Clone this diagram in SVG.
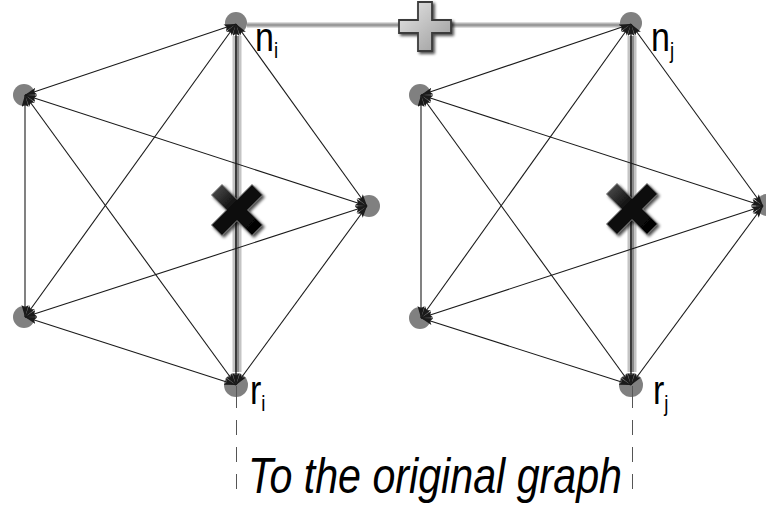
<svg xmlns="http://www.w3.org/2000/svg" width="766" height="508" viewBox="0 0 766 508">
<style>
.node{fill:#808080}
.e{stroke:#1a1a1a;stroke-width:1.1;fill:none;marker-start:url(#ah);marker-end:url(#ah)}
.halo{stroke:#c4c4c4;stroke-width:9;fill:none}
.halo2{stroke:#8a8a8a;stroke-width:4;fill:none}
.core{stroke:#1a1a1a;stroke-width:1.4;fill:none;marker-start:url(#ah);marker-end:url(#ah)}
.dash{stroke:#555;stroke-width:1;stroke-dasharray:15 12;fill:none}
.lbl{font-family:"Liberation Sans",Arial,sans-serif;fill:#000}
</style>
<defs>
<marker id="ah" markerUnits="userSpaceOnUse" markerWidth="14" markerHeight="8" refX="12" refY="3.5" orient="auto-start-reverse">
<path d="M0,0 L12,3.5 L0,7 L2.5,3.5 Z" fill="#1a1a1a"/>
</marker>
<linearGradient id="plusg" x1="0" y1="0" x2="1" y2="1">
<stop offset="0" stop-color="#e6e6e6"/><stop offset="1" stop-color="#9a9a9a"/>
</linearGradient>
<linearGradient id="xg" x1="0" y1="0" x2="1" y2="1">
<stop offset="0" stop-color="#555"/><stop offset="0.4" stop-color="#111"/><stop offset="1" stop-color="#000"/>
</linearGradient>
<filter id="sh" x="-30%" y="-30%" width="160%" height="160%">
<feGaussianBlur in="SourceAlpha" stdDeviation="1.5"/>
<feOffset dx="2" dy="2" result="b"/>
<feComponentTransfer><feFuncA type="linear" slope="0.7"/></feComponentTransfer>
<feMerge><feMergeNode/><feMergeNode in="SourceGraphic"/></feMerge>
</filter>
<polygon id="xshape" points="0,-10.5 15,-25.5 25.5,-15 10.5,0 25.5,15 15,25.5 0,10.5 -15,25.5 -25.5,15 -10.5,0 -25.5,-15 -15,-25.5"/>
</defs>
<rect width="766" height="508" fill="#fff"/>

<g id="nodes-left">
<g id="ni"><circle class="node" cx="236" cy="23" r="11"/></g>
<g id="l-ul"><circle class="node" cx="24" cy="95" r="11"/></g>
<g id="l-r"><circle class="node" cx="369" cy="206" r="11"/></g>
<g id="l-ll"><circle class="node" cx="24" cy="317" r="11"/></g>
<g id="ri"><circle class="node" cx="236" cy="385" r="12"/></g>
</g>
<g id="nodes-right">
<g id="nj"><circle class="node" cx="631" cy="23" r="11"/></g>
<g id="r-ul"><circle class="node" cx="420" cy="95" r="11"/></g>
<g id="r-r"><circle class="node" cx="767" cy="205" r="11"/></g>
<g id="r-ll"><circle class="node" cx="420" cy="318" r="11"/></g>
<g id="rj"><circle class="node" cx="631" cy="385" r="12"/></g>
</g>

<g id="connectors">
<line x1="247" y1="25" x2="620" y2="25" stroke="#b8b8b8" stroke-width="5"/>
<line x1="247" y1="25" x2="620" y2="25" stroke="#909090" stroke-width="1.5"/>
<line class="halo" x1="237" y1="36" x2="237" y2="372"/>
<line class="halo2" x1="237" y1="36" x2="237" y2="372"/>
<line class="halo" x1="632" y1="36" x2="632" y2="372"/>
<line class="halo2" x1="632" y1="36" x2="632" y2="372"/>
<line class="core" x1="236" y1="24" x2="236" y2="385"/>
<line class="core" x1="631" y1="24" x2="631" y2="385"/>
<line class="e" x1="236" y1="24" x2="25" y2="95"/>
<line class="e" x1="236" y1="24" x2="367" y2="206"/>
<line class="e" x1="236" y1="24" x2="25" y2="317"/>
<line class="e" x1="25" y1="95" x2="367" y2="206"/>
<line class="e" x1="25" y1="95" x2="25" y2="317"/>
<line class="e" x1="25" y1="95" x2="236" y2="385"/>
<line class="e" x1="367" y1="206" x2="25" y2="317"/>
<line class="e" x1="367" y1="206" x2="236" y2="385"/>
<line class="e" x1="25" y1="317" x2="236" y2="385"/>
<line class="e" x1="631" y1="24" x2="421" y2="95"/>
<line class="e" x1="631" y1="24" x2="763" y2="206"/>
<line class="e" x1="631" y1="24" x2="421" y2="318"/>
<line class="e" x1="421" y1="95" x2="763" y2="206"/>
<line class="e" x1="421" y1="95" x2="421" y2="318"/>
<line class="e" x1="421" y1="95" x2="631" y2="385"/>
<line class="e" x1="763" y1="206" x2="421" y2="318"/>
<line class="e" x1="763" y1="206" x2="631" y2="385"/>
<line class="e" x1="421" y1="318" x2="631" y2="385"/>
<line stroke="#555" stroke-width="1" x1="236.5" y1="386" x2="236.5" y2="408"/>
<line class="dash" x1="236.5" y1="420" x2="236.5" y2="500"/>
<line stroke="#555" stroke-width="1" x1="632.5" y1="386" x2="632.5" y2="408"/>
<line class="dash" x1="632.5" y1="420" x2="632.5" y2="500"/>
</g>

<g id="plus" filter="url(#sh)">
<path d="M418,2 H432 V20 H451 V33 H432 V51 H418 V33 H399 V20 H418 Z" fill="url(#plusg)" stroke="#3a3a3a" stroke-width="1.8"/>
</g>
<g id="cross-left" filter="url(#sh)">
<use href="#xshape" transform="translate(237,210)" fill="url(#xg)" stroke="#777" stroke-width="1"/>
</g>
<g id="cross-right" filter="url(#sh)">
<use href="#xshape" transform="translate(632,209)" fill="url(#xg)" stroke="#777" stroke-width="1"/>
</g>

<g id="labels">
<text class="lbl" transform="translate(255,51) scale(0.85,1)" font-size="40">n<tspan font-size="22" dy="7">i</tspan></text>
<text class="lbl" transform="translate(651,51) scale(0.85,1)" font-size="40">n<tspan font-size="22" dy="7">j</tspan></text>
<text class="lbl" transform="translate(250,404) scale(0.85,1)" font-size="40">r<tspan font-size="22" dy="7">i</tspan></text>
<text class="lbl" transform="translate(653,404) scale(0.85,1)" font-size="40">r<tspan font-size="22" dy="7">j</tspan></text>
<text class="lbl" x="248" y="493" font-size="50" font-style="italic" textLength="374" lengthAdjust="spacingAndGlyphs">To the original graph</text>
</g>
</svg>
